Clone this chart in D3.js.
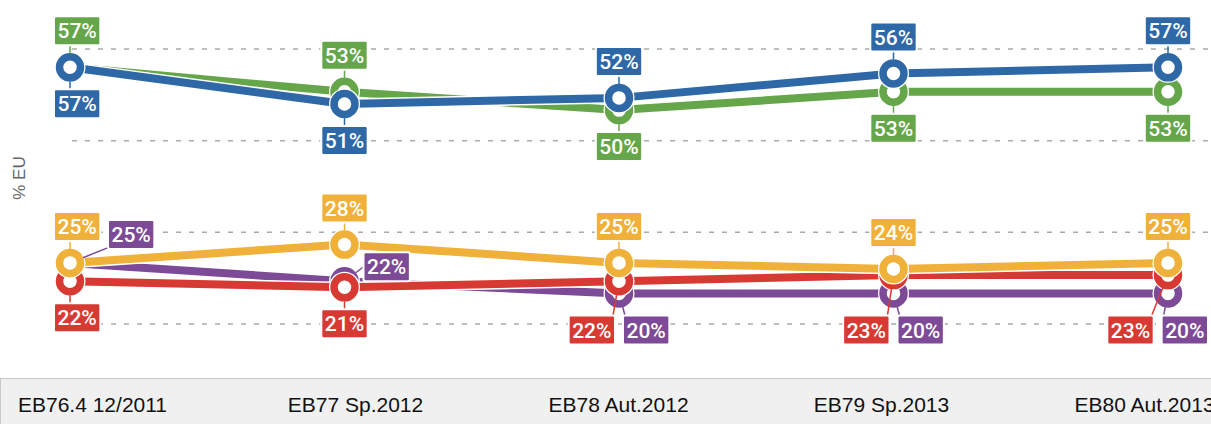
<!DOCTYPE html>
<meta charset="utf-8">
<style>
	body { margin: 0; background: #fff; }
	.grid line { stroke: #aaa; stroke-width: 1.5; stroke-dasharray: 5,8; }
	.tag text { fill: #fff; font: 500 21px Roboto, sans-serif; }
	.xaxis text { font: 21px "Liberation Sans", Arial, sans-serif; fill: #111; }
	.ytitle { font: 17px "Liberation Sans", Arial, sans-serif; fill: #666; }
</style>
<body>
<script src="https://d3js.org/d3.v7.min.js"></script>
<script>
// survey waves (x categories)
var waves = ["EB76.4 12/2011", "EB77 Sp.2012", "EB78 Aut.2012", "EB79 Sp.2013", "EB80 Aut.2013"];
// % EU per wave
var green  = [57, 53, 50, 53, 53];
var blue   = [57, 51, 52, 56, 57];
var purple = [25, 22, 20, 20, 20];
var red    = [22, 21, 22, 23, 23];
var yellow = [25, 28, 25, 24, 25];
var gridTicks = [15, 30, 45, 60];

(function(){
	var W = 1211, H = 424;
	var svg = d3.select("body").append("svg").attr("width", W).attr("height", H);

	var x = d3.scalePoint().domain(waves).range([70, 1168]);
	var y = d3.scaleLinear().domain([15, 60]).range([324, 49]);

	// series in draw order
	var series = [
		{name: "purple", values: purple, color: "#7c4a96", spots: ["upRight", "right", "pairR", "pairR", "pairR"]},
		{name: "red",    values: red,    color: "#d63a32", spots: ["down", "down", "pairL", "pairL", "pairL"]},
		{name: "yellow", values: yellow, color: "#f0b13a", spots: ["up", "up", "up", "up", "up"]},
		{name: "green",  values: green,  color: "#64a649", spots: ["up", "up", "down", "down", "down"]},
		{name: "blue",   values: blue,   color: "#2e68a7", spots: ["down", "down", "up", "up", "up"]}
	];

	// dashed grid
	svg.append("g").attr("class", "grid")
		.selectAll("line").data(gridTicks).enter().append("line")
		.attr("x1", 72).attr("x2", W)
		.attr("y1", function(d){ return y(d); })
		.attr("y2", function(d){ return y(d); });

	// y title
	svg.append("text").attr("class", "ytitle")
		.attr("transform", "translate(25,178) rotate(-90)")
		.attr("text-anchor", "middle")
		.text("% EU");

	var line = d3.line()
		.x(function(d, i){ return x(waves[i]); })
		.y(function(d){ return y(d); });

	series.forEach(function(s){
		var g = svg.append("g");
		g.append("path").datum(s.values).attr("d", line)
			.attr("fill", "none").attr("stroke", "#fff").attr("stroke-width", 11)
			.attr("stroke-linejoin", "round");
		g.append("path").datum(s.values).attr("d", line)
			.attr("fill", "none").attr("stroke", s.color).attr("stroke-width", 8)
			.attr("stroke-linejoin", "round").attr("stroke-linecap", "round");
		g.selectAll(".halo").data(s.values).enter().append("circle")
			.attr("cx", function(d, i){ return x(waves[i]); })
			.attr("cy", function(d){ return y(d); })
			.attr("r", 15.5).attr("fill", "#fff");
		g.selectAll(".dot").data(s.values).enter().append("circle")
			.attr("cx", function(d, i){ return x(waves[i]); })
			.attr("cy", function(d){ return y(d); })
			.attr("r", 10.5).attr("fill", "#fff")
			.attr("stroke", s.color).attr("stroke-width", 7.5);
	});

	// value tags
	var tags = svg.append("g");
	var bh = 29;
	var boxes = [];
	series.forEach(function(s){
		s.values.forEach(function(v, i){
			var t = tags.append("g").attr("class", "tag");
			var txt = t.append("text").text(v + "%");
			var w = txt.node().getComputedTextLength() + 7;
			var px = x(waves[i]), py = y(v), spot = s.spots[i];
			var x0, y0;
			if (spot == "up") { x0 = px - w/2; y0 = py - 22 - bh; }
			else if (spot == "down") { x0 = px - w/2; y0 = py + 22; }
			else if (spot == "pairR") { x0 = px + 4; y0 = y(purple[i]) + 22; }
			else if (spot == "pairL") { x0 = px - 4 - w; y0 = y(purple[i]) + 22; }
			else if (spot == "upRight") { x0 = px + 38; y0 = py - 14 - bh; }
			else { x0 = px + 19; y0 = py - bh; }
			boxes.push({g: t, txt: txt, w: w, px: px, py: py, x0: x0, y0: y0, spot: spot, i: i, color: s.color});
		});
	});
	// keep tags inside the plot, pairs move together
	boxes.forEach(function(b){
		if (b.x0 < 54 && b.spot != "pairL") b.x0 = 54;
		if (b.spot == "pairR" && b.x0 + b.w > 1208) {
			var sh = b.x0 + b.w - 1208;
			b.x0 -= sh;
			boxes.forEach(function(o){ if (o.spot == "pairL" && o.i == b.i) o.x0 -= sh; });
		}
	});
	boxes.forEach(function(b){
		var ax, ay;
		if (b.spot == "up") { ax = b.px; ay = b.y0 + bh; }
		else if (b.spot == "down") { ax = b.px; ay = b.y0; }
		else if (b.spot == "pairR") { ax = b.x0 + 2; ay = b.y0; }
		else if (b.spot == "pairL") { ax = b.x0 + b.w - 2; ay = b.y0; }
		else if (b.spot == "upRight") { ax = b.x0 + 2; ay = b.y0 + bh - 2; }
		else { ax = b.x0; ay = b.y0 + bh/2; }
		var dx = ax - b.px, dy = ay - b.py, len = Math.sqrt(dx*dx + dy*dy) || 1;
		b.g.insert("line", "text")
			.attr("x1", b.px + dx/len*14).attr("y1", b.py + dy/len*14)
			.attr("x2", ax).attr("y2", ay)
			.attr("stroke", b.color).attr("stroke-width", 1.5);
		b.g.insert("rect", "text")
			.attr("x", b.x0).attr("y", b.y0).attr("width", b.w).attr("height", bh)
			.attr("rx", 2).attr("fill", b.color)
			.attr("stroke", "#fff").attr("stroke-width", 2);
		b.txt.attr("x", b.x0 + b.w/2).attr("y", b.y0 + bh/2)
			.attr("text-anchor", "middle").attr("dy", "0.36em");
	});

	// category band at the bottom
	svg.append("rect")
		.attr("x", 0.5).attr("y", 378.5).attr("width", W + 2).attr("height", 50)
		.attr("fill", "#f0f0f0").attr("stroke", "#c8c8c8");
	var xb = d3.scaleBand().domain(waves).range([-39, 1276]);
	svg.append("g").attr("class", "xaxis")
		.attr("transform", "translate(0,378)")
		.call(d3.axisBottom(xb).tickSize(0).tickPadding(19))
		.call(function(g){ g.select(".domain").remove(); });
})();
</script>
